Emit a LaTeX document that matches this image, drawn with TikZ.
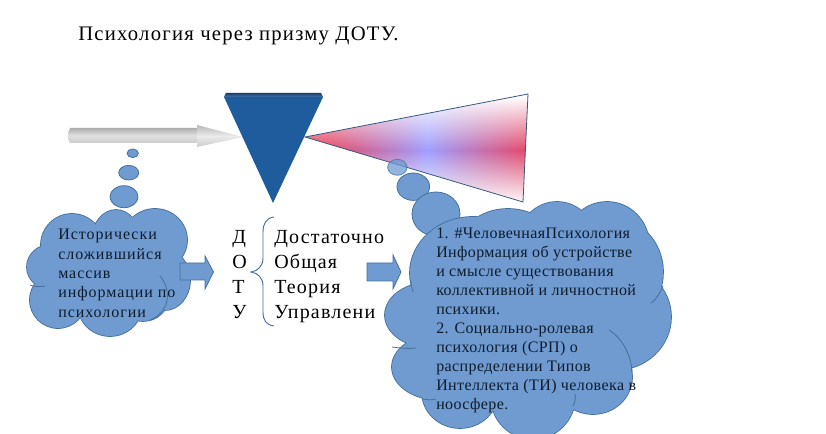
\documentclass[tikz,border=0pt]{standalone}
\usepackage{fontspec}
\usepackage{xcolor}
\setmainfont{Liberation Serif}
\newfontfamily\widefont[LetterSpace=6]{Liberation Serif}
\newfontfamily\tightfont[LetterSpace=2.5]{Liberation Serif}
\definecolor{cloudblue}{HTML}{6F9BD0}
\definecolor{cloudedge}{HTML}{44709F}
\definecolor{prismblue}{HTML}{1F5C9E}
\definecolor{cloudtext}{HTML}{0E1B2B}
\pgfdeclarefunctionalshading{spectrum}{\pgfpoint{0bp}{0bp}}{\pgfpoint{100bp}{100bp}}{}{
  exch 25 sub 50 div 0.55 sub abs 0.45 div dup 1 gt {pop 1} if
  exch 49 sub abs 25 div dup 1 gt {pop 1} if
  1 index 0.28 mul 0.62 add 1 index 1 exch sub mul 1 index add
  2 index -0.34 mul 0.62 add 2 index 1 exch sub mul 2 index add
  3 index -0.6 mul 1 add 3 index 1 exch sub mul 3 index add
  5 -2 roll pop pop
}
\tikzset{
  cloudline/.style={draw=cloudedge,line width=1.3pt},
  cloudfill/.style={fill=cloudblue},
  innerarc/.style={draw=cloudedge,line width=0.6pt},
  blockarrow/.style={fill=cloudblue,draw=cloudedge,line width=0.6pt},
  cloudnote/.style={inner sep=0pt,anchor=north west,align=left,text=cloudtext},
  plainnote/.style={inner sep=0pt,anchor=north west,align=left,text=black}
}
\def\leftcloud{(72,245) ellipse (31 and 31) (116,240) ellipse (24 and 30) (155,240) ellipse (32 and 31)
  (50,267) ellipse (23 and 22) (165,280) ellipse (25 and 30) (58,300) ellipse (28 and 28)
  (110,305) ellipse (32 and 31) (143,298) ellipse (25 and 23) (110,270) ellipse (50 and 40)}
\def\bigcloud{(473,273) ellipse (63 and 56) (508,250) ellipse (50 and 41) (557,245) ellipse (40 and 43)
  (607,245) ellipse (42 and 43) (610,272) ellipse (53 and 55) (615,317) ellipse (56 and 53)
  (432,315) ellipse (47 and 33) (440,367) ellipse (48 and 33) (460,392) ellipse (38 and 36)
  (533,397) ellipse (42 and 42) (593,377) ellipse (39 and 37) (530,320) ellipse (100 and 70)}
\begin{document}
\begin{tikzpicture}[x=0.75pt,y=-0.75pt]
    \useasboundingbox (0,0) rectangle (826,434);
    \node[plainnote,font=\fontsize{15.5}{18}\widefont] (title) at (78,27) {Психология через призму ДОТУ.};
    % grey arrow into the prism
    \shade[top color=black!32,bottom color=black!20,middle color=black!12]
      (68,133) -- (70,128) -- (197,128) -- (197,143) -- (70,143) -- (68,139) -- cycle;
    \shade[top color=black!28,bottom color=black!20,middle color=black!8]
      (197,125) -- (243,137) -- (197,147) -- cycle;
    % dark prism
    \fill[prismblue] (224,97) -- (323,97) -- (273,203) -- cycle;
    \shade[top color=prismblue!70!black,bottom color=prismblue!85!white]
      (226,93) -- (321,93) -- (323,97) -- (224,97) -- cycle;
    % spectrum
    \shade[shading=spectrum] (305,137) -- (528,94) -- (523,202) -- cycle;
    \draw[draw=cloudedge!80!black,line width=0.6pt] (305,137) -- (528,94) -- (523,202) -- cycle;
    % left cloud
    \fill[cloudfill,draw=cloudedge,line width=0.6pt] (132.7,153.3) ellipse (5.7 and 4.3);
    \fill[cloudfill,draw=cloudedge,line width=0.6pt] (128.7,172.7) ellipse (10 and 7.3);
    \fill[cloudfill,draw=cloudedge,line width=0.6pt] (124,196.7) ellipse (14 and 11);
    \path[cloudline] \leftcloud;
    \fill[cloudfill] \leftcloud;
    \draw[innerarc] (160,276) .. controls (172,290) and (170,312) .. (150,320);
    \draw[innerarc] (30,285) .. controls (35,287) and (40,287) .. (45,286);
    % right cloud
    \fill[cloudfill,draw=cloudedge,line width=0.6pt,opacity=0.75] (397.3,167.3) ellipse (9.7 and 8);
    \fill[cloudfill,draw=cloudedge,line width=0.6pt] (413.3,186.7) ellipse (16.3 and 13.7);
    \fill[cloudfill,draw=cloudedge,line width=0.6pt] (436,214) ellipse (24 and 22);
    \path[cloudline] \bigcloud;
    \fill[cloudfill] \bigcloud;
    \draw[innerarc] (609,330) .. controls (625,340) and (632,360) .. (632,372);
    \draw[innerarc] (651,303) .. controls (658,298) and (660,292) .. (663,286);
    \draw[innerarc] (392,347) .. controls (400,348) and (408,349) .. (416,348);
    \draw[innerarc] (411,281) .. controls (411,285) and (412,288) .. (413,292);
    \draw[innerarc] (423,399) .. controls (428,400) and (432,400) .. (436,399);
    \draw[innerarc] (575,394) .. controls (576,398) and (575,402) .. (573,406);
    % block arrows
    \draw[blockarrow] (180,263) -- (205,263) -- (205,256) -- (213.5,272) -- (205,289) -- (205,280) -- (180,280) -- cycle;
    \draw[blockarrow] (367,263) -- (393,263) -- (393,255) -- (401,272) -- (393,289) -- (393,281) -- (367,281) -- cycle;
    % brace
    \draw[draw=cloudedge,line width=0.7pt] (274,217) .. controls (266,218) and (263,224) .. (263,232)
      -- (263,258) .. controls (263,266) and (258,271) .. (251,272)
      .. controls (258,273) and (263,278) .. (263,286) -- (263,312)
      .. controls (263,320) and (266,325) .. (274,326);
    \node[cloudnote,font=\fontsize{12}{14.5}\widefont] (leftnote) at (58,229) {Исторически\\сложившийся\\массив\\информации по\\психологии};
    \node[plainnote,font=\fontsize{15}{18.8}\widefont] (letters) at (232,230) {Д\\О\\Т\\У};
    \node[plainnote,font=\fontsize{15}{18.8}\widefont] (words) at (274,230) {Достаточно\\Общая\\Теория\\Управлени};
    \node[cloudnote,font=\fontsize{12}{14.25}\tightfont] (bignote) at (436,228) {1. \#ЧеловечнаяПсихология\\Информация об устройстве\\и смысле существования\\коллективной и личностной\\психики.\\2. Социально-ролевая\\психология (СРП) о\\распределении Типов\\Интеллекта (ТИ) человека в\\ноосфере.};
\end{tikzpicture}
\end{document}
